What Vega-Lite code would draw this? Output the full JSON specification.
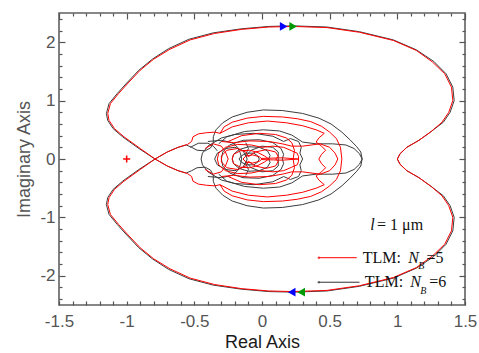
{
  "$schema": "https://vega.github.io/schema/vega-lite/v6.json",
  "width": 406,
  "height": 292,
  "autosize": "none",
  "padding": {"left": 59, "top": 13, "right": 14, "bottom": 48},
  "config": {"font": "Liberation Sans", "view": {"stroke": "#606060", "strokeWidth": 1.6}},
  "datasets": {
    "n5": [
      {"g":"a","x":-0.79,"y":0},{"g":"a","x":-0.90,"y":0.18},{"g":"a","x":-1.02,"y":0.38},{"g":"a","x":-1.09,"y":0.52},{"g":"a","x":-1.13,"y":0.66},{"g":"a","x":-1.14,"y":0.78},{"g":"a","x":-1.12,"y":0.95},{"g":"a","x":-1.06,"y":1.12},{"g":"a","x":-0.99,"y":1.30},{"g":"a","x":-0.90,"y":1.52},{"g":"a","x":-0.80,"y":1.71},{"g":"a","x":-0.68,"y":1.88},{"g":"a","x":-0.53,"y":2.04},{"g":"a","x":-0.35,"y":2.15},{"g":"a","x":-0.15,"y":2.22},{"g":"a","x":0.05,"y":2.26},{"g":"a","x":0.23,"y":2.27},{"g":"a","x":0.48,"y":2.25},{"g":"a","x":0.72,"y":2.17},{"g":"a","x":0.97,"y":2.03},{"g":"a","x":1.14,"y":1.86},{"g":"a","x":1.26,"y":1.66},{"g":"a","x":1.35,"y":1.46},{"g":"a","x":1.40,"y":1.23},{"g":"a","x":1.41,"y":1.00},{"g":"a","x":1.38,"y":0.80},{"g":"a","x":1.33,"y":0.63},{"g":"a","x":1.25,"y":0.47},{"g":"a","x":1.16,"y":0.32},{"g":"a","x":1.07,"y":0.20},{"g":"a","x":1.02,"y":0.09},{"g":"a","x":1.00,"y":0},
      {"g":"a","x":1.02,"y":-0.09},{"g":"a","x":1.07,"y":-0.20},{"g":"a","x":1.16,"y":-0.32},{"g":"a","x":1.25,"y":-0.47},{"g":"a","x":1.33,"y":-0.63},{"g":"a","x":1.38,"y":-0.80},{"g":"a","x":1.41,"y":-1.00},{"g":"a","x":1.40,"y":-1.23},{"g":"a","x":1.35,"y":-1.46},{"g":"a","x":1.26,"y":-1.66},{"g":"a","x":1.14,"y":-1.86},{"g":"a","x":0.97,"y":-2.03},{"g":"a","x":0.72,"y":-2.17},{"g":"a","x":0.48,"y":-2.25},{"g":"a","x":0.23,"y":-2.27},{"g":"a","x":0.05,"y":-2.26},{"g":"a","x":-0.15,"y":-2.22},{"g":"a","x":-0.35,"y":-2.15},{"g":"a","x":-0.53,"y":-2.04},{"g":"a","x":-0.68,"y":-1.88},{"g":"a","x":-0.80,"y":-1.71},{"g":"a","x":-0.90,"y":-1.52},{"g":"a","x":-0.99,"y":-1.30},{"g":"a","x":-1.06,"y":-1.12},{"g":"a","x":-1.12,"y":-0.95},{"g":"a","x":-1.14,"y":-0.78},{"g":"a","x":-1.13,"y":-0.66},{"g":"a","x":-1.09,"y":-0.52},{"g":"a","x":-1.02,"y":-0.38},{"g":"a","x":-0.90,"y":-0.18},{"g":"a","x":-0.79,"y":0},
      {"g":"b","x":-0.79,"y":0},{"g":"b","x":-0.70,"y":0.12},{"g":"b","x":-0.62,"y":0.20},{"g":"b","x":-0.55,"y":0.25},{"g":"b","x":-0.52,"y":0.30},{"g":"b","x":-0.51,"y":0.38},{"g":"b","x":-0.47,"y":0.43},{"g":"b","x":-0.41,"y":0.45},{"g":"b","x":-0.35,"y":0.46},{"g":"b","x":-0.31,"y":0.44},{"g":"b","x":-0.28,"y":0.55},{"g":"b","x":-0.22,"y":0.63},{"g":"b","x":-0.11,"y":0.70},{"g":"b","x":0.01,"y":0.73},{"g":"b","x":0.15,"y":0.72},{"g":"b","x":0.26,"y":0.69},{"g":"b","x":0.36,"y":0.64},{"g":"b","x":0.44,"y":0.56},{"g":"b","x":0.50,"y":0.46},{"g":"b","x":0.55,"y":0.35},{"g":"b","x":0.58,"y":0.20},{"g":"b","x":0.59,"y":0},
      {"g":"b","x":0.58,"y":-0.20},{"g":"b","x":0.55,"y":-0.35},{"g":"b","x":0.50,"y":-0.46},{"g":"b","x":0.44,"y":-0.56},{"g":"b","x":0.36,"y":-0.64},{"g":"b","x":0.26,"y":-0.69},{"g":"b","x":0.15,"y":-0.72},{"g":"b","x":0.01,"y":-0.73},{"g":"b","x":-0.11,"y":-0.70},{"g":"b","x":-0.22,"y":-0.63},{"g":"b","x":-0.28,"y":-0.55},{"g":"b","x":-0.31,"y":-0.44},{"g":"b","x":-0.35,"y":-0.46},{"g":"b","x":-0.41,"y":-0.45},{"g":"b","x":-0.47,"y":-0.43},{"g":"b","x":-0.51,"y":-0.38},{"g":"b","x":-0.52,"y":-0.30},{"g":"b","x":-0.55,"y":-0.25},{"g":"b","x":-0.62,"y":-0.20},{"g":"b","x":-0.70,"y":-0.12},{"g":"b","x":-0.79,"y":0},
      {"g":"c","x":-0.31,"y":0.44},{"g":"c","x":-0.22,"y":0.55},{"g":"c","x":-0.10,"y":0.62},{"g":"c","x":0.04,"y":0.65},{"g":"c","x":0.18,"y":0.62},{"g":"c","x":0.30,"y":0.57},{"g":"c","x":0.40,"y":0.50},{"g":"c","x":0.46,"y":0.44},{"g":"c","x":0.42,"y":0.36},{"g":"c","x":0.40,"y":0.29},{"g":"c","x":0.44,"y":0.22},{"g":"c","x":0.47,"y":0.15},{"g":"c","x":0.44,"y":0.08},{"g":"c","x":0.42,"y":0},
      {"g":"c","x":0.44,"y":-0.08},{"g":"c","x":0.47,"y":-0.15},{"g":"c","x":0.44,"y":-0.22},{"g":"c","x":0.40,"y":-0.29},{"g":"c","x":0.42,"y":-0.36},{"g":"c","x":0.46,"y":-0.44},{"g":"c","x":0.40,"y":-0.50},{"g":"c","x":0.30,"y":-0.57},{"g":"c","x":0.18,"y":-0.62},{"g":"c","x":0.04,"y":-0.65},{"g":"c","x":-0.10,"y":-0.62},{"g":"c","x":-0.22,"y":-0.55},{"g":"c","x":-0.31,"y":-0.44},
      {"g":"d","x":-0.30,"y":0.30},{"g":"d","x":-0.21,"y":0.28},{"g":"d","x":-0.09,"y":0.31},{"g":"d","x":0.05,"y":0.30},{"g":"d","x":0.15,"y":0.26},{"g":"d","x":0.22,"y":0.22},{"g":"d","x":0.30,"y":0.22},{"g":"d","x":0.43,"y":0.26},{"g":"d","x":0.50,"y":0.20},{"g":"d","x":0.54,"y":0.10},{"g":"d","x":0.56,"y":0},
      {"g":"d","x":0.54,"y":-0.10},{"g":"d","x":0.50,"y":-0.20},{"g":"d","x":0.43,"y":-0.26},{"g":"d","x":0.30,"y":-0.22},{"g":"d","x":0.22,"y":-0.22},{"g":"d","x":0.15,"y":-0.26},{"g":"d","x":0.05,"y":-0.30},{"g":"d","x":-0.09,"y":-0.31},{"g":"d","x":-0.21,"y":-0.28},{"g":"d","x":-0.30,"y":-0.30},
      {"g":"e","x":-0.33,"y":0},{"g":"e","x":-0.32,"y":0.10},{"g":"e","x":-0.27,"y":0.20},{"g":"e","x":-0.18,"y":0.25},{"g":"e","x":-0.08,"y":0.24},{"g":"e","x":0.00,"y":0.20},{"g":"e","x":0.08,"y":0.22},{"g":"e","x":0.16,"y":0.20},{"g":"e","x":0.22,"y":0.14},{"g":"e","x":0.26,"y":0.10},{"g":"e","x":0.27,"y":0.04},{"g":"e","x":0.27,"y":0},
      {"g":"e","x":0.27,"y":-0.04},{"g":"e","x":0.26,"y":-0.10},{"g":"e","x":0.22,"y":-0.14},{"g":"e","x":0.16,"y":-0.20},{"g":"e","x":0.08,"y":-0.22},{"g":"e","x":0.00,"y":-0.20},{"g":"e","x":-0.08,"y":-0.24},{"g":"e","x":-0.18,"y":-0.25},{"g":"e","x":-0.27,"y":-0.20},{"g":"e","x":-0.32,"y":-0.10},{"g":"e","x":-0.33,"y":0},
      {"g":"f","x":-0.22,"y":0},{"g":"f","x":-0.21,"y":0.08},{"g":"f","x":-0.16,"y":0.14},{"g":"f","x":-0.09,"y":0.15},{"g":"f","x":-0.03,"y":0.11},{"g":"f","x":0.02,"y":0.05},{"g":"f","x":0.05,"y":0},{"g":"f","x":0.02,"y":-0.05},{"g":"f","x":-0.03,"y":-0.11},{"g":"f","x":-0.09,"y":-0.15},{"g":"f","x":-0.16,"y":-0.14},{"g":"f","x":-0.21,"y":-0.08},{"g":"f","x":-0.22,"y":0},
      {"g":"g","x":-0.14,"y":0},{"g":"g","x":-0.12,"y":0.05},{"g":"g","x":-0.07,"y":0.07},{"g":"g","x":-0.02,"y":0.04},{"g":"g","x":0.00,"y":0},{"g":"g","x":-0.02,"y":-0.04},{"g":"g","x":-0.07,"y":-0.07},{"g":"g","x":-0.12,"y":-0.05},{"g":"g","x":-0.14,"y":0},
      {"g":"h","x":-0.25,"y":0.30},{"g":"h","x":-0.15,"y":0.40},{"g":"h","x":-0.02,"y":0.44},{"g":"h","x":0.10,"y":0.42},{"g":"h","x":0.18,"y":0.36},{"g":"h","x":0.22,"y":0.28},{"g":"h","x":0.24,"y":0.15},{"g":"h","x":0.23,"y":0},{"g":"h","x":0.24,"y":-0.15},{"g":"h","x":0.22,"y":-0.28},{"g":"h","x":0.18,"y":-0.36},{"g":"h","x":0.10,"y":-0.42},{"g":"h","x":-0.02,"y":-0.44},{"g":"h","x":-0.15,"y":-0.40},{"g":"h","x":-0.25,"y":-0.30},
      {"g":"i","x":-0.30,"y":0.05},{"g":"i","x":-0.26,"y":0.15},{"g":"i","x":-0.18,"y":0.18},{"g":"i","x":-0.12,"y":0.12},{"g":"i","x":-0.10,"y":0.04},{"g":"i","x":-0.05,"y":0.12},{"g":"i","x":0.03,"y":0.16},{"g":"i","x":0.10,"y":0.12},{"g":"i","x":0.12,"y":0.04},{"g":"i","x":0.10,"y":0},{"g":"i","x":0.12,"y":-0.04},{"g":"i","x":0.10,"y":-0.12},{"g":"i","x":0.03,"y":-0.16},{"g":"i","x":-0.05,"y":-0.12},{"g":"i","x":-0.10,"y":-0.04},{"g":"i","x":-0.12,"y":-0.12},{"g":"i","x":-0.18,"y":-0.18},{"g":"i","x":-0.26,"y":-0.15},{"g":"i","x":-0.30,"y":-0.05},{"g":"i","x":-0.30,"y":0.05},
      {"g":"l","x":0.00,"y":0.01},{"g":"l","x":0.15,"y":0.02},{"g":"l","x":0.27,"y":0},{"g":"l","x":0.15,"y":-0.02},{"g":"l","x":0.00,"y":-0.01},
      {"g":"m","x":-0.42,"y":0.18},{"g":"m","x":-0.36,"y":0.26},{"g":"m","x":-0.30,"y":0.22},{"g":"m","x":-0.27,"y":0.12},{"g":"m","x":-0.25,"y":0},{"g":"m","x":-0.27,"y":-0.12},{"g":"m","x":-0.30,"y":-0.22},{"g":"m","x":-0.36,"y":-0.26},{"g":"m","x":-0.42,"y":-0.18}
    ],
    "n6": [
      {"g":"a","x":-0.79,"y":0},{"g":"a","x":-0.91,"y":0.18},{"g":"a","x":-1.03,"y":0.38},{"g":"a","x":-1.10,"y":0.52},{"g":"a","x":-1.14,"y":0.66},{"g":"a","x":-1.15,"y":0.78},{"g":"a","x":-1.13,"y":0.95},{"g":"a","x":-1.07,"y":1.12},{"g":"a","x":-1.00,"y":1.30},{"g":"a","x":-0.91,"y":1.52},{"g":"a","x":-0.81,"y":1.71},{"g":"a","x":-0.69,"y":1.89},{"g":"a","x":-0.54,"y":2.05},{"g":"a","x":-0.36,"y":2.16},{"g":"a","x":-0.15,"y":2.23},{"g":"a","x":0.05,"y":2.27},{"g":"a","x":0.23,"y":2.28},{"g":"a","x":0.48,"y":2.26},{"g":"a","x":0.72,"y":2.18},{"g":"a","x":0.97,"y":2.04},{"g":"a","x":1.14,"y":1.87},{"g":"a","x":1.27,"y":1.67},{"g":"a","x":1.36,"y":1.46},{"g":"a","x":1.41,"y":1.23},{"g":"a","x":1.42,"y":1.00},{"g":"a","x":1.39,"y":0.80},{"g":"a","x":1.34,"y":0.63},{"g":"a","x":1.25,"y":0.47},{"g":"a","x":1.16,"y":0.32},{"g":"a","x":1.07,"y":0.20},{"g":"a","x":1.02,"y":0.09},{"g":"a","x":1.00,"y":0},
      {"g":"a","x":1.02,"y":-0.09},{"g":"a","x":1.07,"y":-0.20},{"g":"a","x":1.16,"y":-0.32},{"g":"a","x":1.25,"y":-0.47},{"g":"a","x":1.34,"y":-0.63},{"g":"a","x":1.39,"y":-0.80},{"g":"a","x":1.42,"y":-1.00},{"g":"a","x":1.41,"y":-1.23},{"g":"a","x":1.36,"y":-1.46},{"g":"a","x":1.27,"y":-1.67},{"g":"a","x":1.14,"y":-1.87},{"g":"a","x":0.97,"y":-2.04},{"g":"a","x":0.72,"y":-2.18},{"g":"a","x":0.48,"y":-2.26},{"g":"a","x":0.23,"y":-2.28},{"g":"a","x":0.05,"y":-2.27},{"g":"a","x":-0.15,"y":-2.23},{"g":"a","x":-0.36,"y":-2.16},{"g":"a","x":-0.54,"y":-2.05},{"g":"a","x":-0.69,"y":-1.89},{"g":"a","x":-0.81,"y":-1.71},{"g":"a","x":-0.91,"y":-1.52},{"g":"a","x":-1.00,"y":-1.30},{"g":"a","x":-1.07,"y":-1.12},{"g":"a","x":-1.13,"y":-0.95},{"g":"a","x":-1.15,"y":-0.78},{"g":"a","x":-1.14,"y":-0.66},{"g":"a","x":-1.10,"y":-0.52},{"g":"a","x":-1.03,"y":-0.38},{"g":"a","x":-0.91,"y":-0.18},{"g":"a","x":-0.79,"y":0},
      {"g":"b","x":-0.79,"y":0},{"g":"b","x":-0.70,"y":0.12},{"g":"b","x":-0.62,"y":0.20},{"g":"b","x":-0.56,"y":0.24},{"g":"b","x":-0.52,"y":0.20},{"g":"b","x":-0.48,"y":0.15},{"g":"b","x":-0.42,"y":0.14},{"g":"b","x":-0.38,"y":0.19},{"g":"b","x":-0.36,"y":0.28},{"g":"b","x":-0.36,"y":0.38},{"g":"b","x":-0.34,"y":0.50},{"g":"b","x":-0.29,"y":0.62},{"g":"b","x":-0.22,"y":0.72},{"g":"b","x":-0.11,"y":0.80},{"g":"b","x":0.01,"y":0.84},{"g":"b","x":0.15,"y":0.83},{"g":"b","x":0.30,"y":0.78},{"g":"b","x":0.42,"y":0.70},{"g":"b","x":0.51,"y":0.60},{"g":"b","x":0.59,"y":0.46},{"g":"b","x":0.65,"y":0.33},{"g":"b","x":0.70,"y":0.21},{"g":"b","x":0.73,"y":0.12},{"g":"b","x":0.74,"y":0},
      {"g":"b","x":0.73,"y":-0.12},{"g":"b","x":0.70,"y":-0.21},{"g":"b","x":0.65,"y":-0.33},{"g":"b","x":0.59,"y":-0.46},{"g":"b","x":0.51,"y":-0.60},{"g":"b","x":0.42,"y":-0.70},{"g":"b","x":0.30,"y":-0.78},{"g":"b","x":0.15,"y":-0.83},{"g":"b","x":0.01,"y":-0.84},{"g":"b","x":-0.11,"y":-0.80},{"g":"b","x":-0.22,"y":-0.72},{"g":"b","x":-0.29,"y":-0.62},{"g":"b","x":-0.34,"y":-0.50},{"g":"b","x":-0.36,"y":-0.38},{"g":"b","x":-0.36,"y":-0.28},{"g":"b","x":-0.38,"y":-0.19},{"g":"b","x":-0.42,"y":-0.14},{"g":"b","x":-0.48,"y":-0.15},{"g":"b","x":-0.52,"y":-0.20},{"g":"b","x":-0.56,"y":-0.24},{"g":"b","x":-0.62,"y":-0.20},{"g":"b","x":-0.70,"y":-0.12},{"g":"b","x":-0.79,"y":0},
      {"g":"c","x":-0.32,"y":0.26},{"g":"c","x":-0.26,"y":0.38},{"g":"c","x":-0.13,"y":0.47},{"g":"c","x":0.01,"y":0.50},{"g":"c","x":0.13,"y":0.48},{"g":"c","x":0.22,"y":0.41},{"g":"c","x":0.30,"y":0.29},{"g":"c","x":0.40,"y":0.26},{"g":"c","x":0.52,"y":0.26},{"g":"c","x":0.62,"y":0.24},{"g":"c","x":0.68,"y":0.18},{"g":"c","x":0.72,"y":0.09},{"g":"c","x":0.74,"y":0},{"g":"c","x":0.72,"y":-0.09},{"g":"c","x":0.68,"y":-0.18},{"g":"c","x":0.62,"y":-0.24},{"g":"c","x":0.52,"y":-0.26},{"g":"c","x":0.40,"y":-0.26},{"g":"c","x":0.30,"y":-0.29},{"g":"c","x":0.22,"y":-0.41},{"g":"c","x":0.13,"y":-0.48},{"g":"c","x":0.01,"y":-0.50},{"g":"c","x":-0.13,"y":-0.47},{"g":"c","x":-0.26,"y":-0.38},{"g":"c","x":-0.32,"y":-0.26},
      {"g":"d","x":-0.45,"y":0},{"g":"d","x":-0.44,"y":0.10},{"g":"d","x":-0.40,"y":0.22},{"g":"d","x":-0.30,"y":0.36},{"g":"d","x":-0.20,"y":0.42},{"g":"d","x":-0.06,"y":0.44},{"g":"d","x":0.08,"y":0.39},{"g":"d","x":0.16,"y":0.30},{"g":"d","x":0.21,"y":0.35},{"g":"d","x":0.27,"y":0.30},{"g":"d","x":0.29,"y":0.20},{"g":"d","x":0.28,"y":0.10},{"g":"d","x":0.30,"y":0},{"g":"d","x":0.28,"y":-0.10},{"g":"d","x":0.29,"y":-0.20},{"g":"d","x":0.27,"y":-0.30},{"g":"d","x":0.21,"y":-0.35},{"g":"d","x":0.16,"y":-0.30},{"g":"d","x":0.08,"y":-0.39},{"g":"d","x":-0.06,"y":-0.44},{"g":"d","x":-0.20,"y":-0.42},{"g":"d","x":-0.30,"y":-0.36},{"g":"d","x":-0.40,"y":-0.22},{"g":"d","x":-0.44,"y":-0.10},{"g":"d","x":-0.45,"y":0},
      {"g":"e","x":-0.30,"y":0},{"g":"e","x":-0.29,"y":0.12},{"g":"e","x":-0.24,"y":0.24},{"g":"e","x":-0.14,"y":0.32},{"g":"e","x":-0.02,"y":0.33},{"g":"e","x":0.08,"y":0.28},{"g":"e","x":0.14,"y":0.18},{"g":"e","x":0.16,"y":0.08},{"g":"e","x":0.15,"y":0},{"g":"e","x":0.16,"y":-0.08},{"g":"e","x":0.14,"y":-0.18},{"g":"e","x":0.08,"y":-0.28},{"g":"e","x":-0.02,"y":-0.33},{"g":"e","x":-0.14,"y":-0.32},{"g":"e","x":-0.24,"y":-0.24},{"g":"e","x":-0.29,"y":-0.12},{"g":"e","x":-0.30,"y":0},
      {"g":"f","x":-0.22,"y":0},{"g":"f","x":-0.21,"y":0.08},{"g":"f","x":-0.17,"y":0.16},{"g":"f","x":-0.10,"y":0.21},{"g":"f","x":-0.02,"y":0.20},{"g":"f","x":0.04,"y":0.14},{"g":"f","x":0.06,"y":0.06},{"g":"f","x":0.05,"y":0},{"g":"f","x":0.06,"y":-0.06},{"g":"f","x":0.04,"y":-0.14},{"g":"f","x":-0.02,"y":-0.20},{"g":"f","x":-0.10,"y":-0.21},{"g":"f","x":-0.17,"y":-0.16},{"g":"f","x":-0.21,"y":-0.08},{"g":"f","x":-0.22,"y":0},
      {"g":"g","x":-0.17,"y":0},{"g":"g","x":-0.15,"y":0.06},{"g":"g","x":-0.11,"y":0.10},{"g":"g","x":-0.06,"y":0.10},{"g":"g","x":-0.03,"y":0.05},{"g":"g","x":-0.02,"y":0},{"g":"g","x":-0.03,"y":-0.05},{"g":"g","x":-0.06,"y":-0.10},{"g":"g","x":-0.11,"y":-0.10},{"g":"g","x":-0.15,"y":-0.06},{"g":"g","x":-0.17,"y":0},
      {"g":"h","x":-0.35,"y":0},{"g":"h","x":-0.33,"y":0.10},{"g":"h","x":-0.27,"y":0.18},{"g":"h","x":-0.20,"y":0.20},{"g":"h","x":-0.14,"y":0.14},{"g":"h","x":-0.12,"y":0.05},{"g":"h","x":-0.08,"y":0.15},{"g":"h","x":0.00,"y":0.22},{"g":"h","x":0.08,"y":0.20},{"g":"h","x":0.12,"y":0.12},{"g":"h","x":0.12,"y":0},{"g":"h","x":0.12,"y":-0.12},{"g":"h","x":0.08,"y":-0.20},{"g":"h","x":0.00,"y":-0.22},{"g":"h","x":-0.08,"y":-0.15},{"g":"h","x":-0.12,"y":-0.05},{"g":"h","x":-0.14,"y":-0.14},{"g":"h","x":-0.20,"y":-0.20},{"g":"h","x":-0.27,"y":-0.18},{"g":"h","x":-0.33,"y":-0.10},{"g":"h","x":-0.35,"y":0},
      {"g":"i","x":-0.40,"y":0.30},{"g":"i","x":-0.30,"y":0.32},{"g":"i","x":-0.22,"y":0.28},{"g":"i","x":-0.18,"y":0.20},{"g":"i","x":-0.16,"y":0.10},{"g":"i","x":-0.15,"y":0},{"g":"i","x":-0.16,"y":-0.10},{"g":"i","x":-0.18,"y":-0.20},{"g":"i","x":-0.22,"y":-0.28},{"g":"i","x":-0.30,"y":-0.32},{"g":"i","x":-0.40,"y":-0.30},
      {"g":"j","x":-0.12,"y":0.28},{"g":"j","x":-0.10,"y":0.18},{"g":"j","x":-0.12,"y":0.08},{"g":"j","x":-0.11,"y":0},{"g":"j","x":-0.12,"y":-0.08},{"g":"j","x":-0.10,"y":-0.18},{"g":"j","x":-0.12,"y":-0.28},
      {"g":"k","x":-0.53,"y":0.20},{"g":"k","x":-0.47,"y":0.27},{"g":"k","x":-0.40,"y":0.27},{"g":"k","x":-0.36,"y":0.22},{"g":"k","x":-0.33,"y":0.14}
    ],
    "legl": [
      {"s":"N5","x":0.42,"y":-1.69},{"s":"N5","x":0.70,"y":-1.69},
      {"s":"N6","x":0.42,"y":-2.11},{"s":"N6","x":0.72,"y":-2.11}
    ],
    "txt": [
      {"t":"TLM:","x":0.745,"y":-1.69},{"t":"=5","x":1.215,"y":-1.69},
      {"t":"TLM:","x":0.76,"y":-2.11},{"t":"=6","x":1.235,"y":-2.11},
      {"t":"= 1 μm","x":0.85,"y":-1.13}
    ],
    "txti": [
      {"t":"N","x":1.08,"y":-1.69},{"t":"N","x":1.095,"y":-2.11},{"t":"l","x":0.80,"y":-1.13}
    ],
    "txts": [
      {"t":"B","x":1.155,"y":-1.84},{"t":"B","x":1.17,"y":-2.26}
    ],
    "arr": [
      {"s":"N5","d":"fwd","x":0.16,"y":2.27},{"s":"N6","d":"fwd","x":0.23,"y":2.27},
      {"s":"N5","d":"back","x":0.22,"y":-2.28},{"s":"N6","d":"back","x":0.29,"y":-2.28}
    ],
    "crit": [{"x":-1,"y":0}]
  },
  "resolve": {"axis": {"x": "independent", "y": "independent"}, "scale": {"color": "independent", "shape": "independent"}},
  "layer": [
    {
      "mark": {"type": "rule", "color": "#c4c4c4", "strokeWidth": 1.5},
      "encoding": {
        "x": {"datum": 0, "type": "quantitative", "scale": {"domain": [-1.5, 1.5], "nice": false, "zero": false},
          "axis": {"orient": "bottom", "values": [-1.5, -1, -0.5, 0, 0.5, 1, 1.5], "ticks": false, "domain": false, "grid": false,
            "labelExpr": "datum.value < 0 ? '-' + format(-datum.value, '') : format(datum.value, '')",
            "labelFontSize": 17, "labelColor": "#555555", "labelPadding": 8, "labelFlush": false, "labelOverlap": false,
            "title": "Real Axis", "titleFontSize": 18, "titleFontWeight": "normal", "titleColor": "#1a1a1a", "titlePadding": 4}}
      }
    },
    {
      "mark": {"type": "rule", "color": "#c4c4c4", "strokeWidth": 1.5},
      "encoding": {
        "y": {"datum": 0, "type": "quantitative", "scale": {"domain": [-2.5, 2.5], "nice": false, "zero": false},
          "axis": {"orient": "left", "offset": -6, "values": [-2, -1, 0, 1, 2], "tickSize": 6, "tickColor": "#555555", "tickWidth": 1.2, "domain": false, "grid": false,
            "labelExpr": "datum.value < 0 ? '-' + format(-datum.value, '') : format(datum.value, '')",
            "labelFontSize": 17, "labelColor": "#555555", "labelPadding": 4, "labelFlush": false, "labelOverlap": false,
            "title": "Imaginary Axis", "titleFontSize": 18, "titleFontWeight": "normal", "titleColor": "#555555", "titlePadding": 6}}
      }
    },
    {
      "data": {"name": "n6"},
      "mark": {"type": "line", "color": "#3c3c3c", "strokeWidth": 1},
      "encoding": {
        "x": {"field": "x", "type": "quantitative", "scale": {"domain": [-1.5, 1.5], "nice": false, "zero": false},
          "axis": {"orient": "bottom", "offset": -4, "values": [-1.5,-1.4,-1.3,-1.2,-1.1,-1,-0.9,-0.8,-0.7,-0.6,-0.5,-0.4,-0.3,-0.2,-0.1,0,0.1,0.2,0.3,0.4,0.5,0.6,0.7,0.8,0.9,1,1.1,1.2,1.3,1.4,1.5], "tickSize": 4, "tickColor": "#555555", "tickWidth": 1.2, "labels": false, "domain": false, "grid": false, "title": null}},
        "y": {"field": "y", "type": "quantitative", "scale": {"domain": [-2.5, 2.5], "nice": false, "zero": false},
          "axis": {"orient": "left", "offset": -3, "values": [-2.4,-2.2,-1.8,-1.6,-1.4,-1.2,-0.8,-0.6,-0.4,-0.2,0.2,0.4,0.6,0.8,1.2,1.4,1.6,1.8,2.2,2.4], "tickSize": 3, "tickColor": "#555555", "tickWidth": 1.2, "labels": false, "domain": false, "grid": false, "title": null}},
        "detail": {"field": "g", "type": "nominal"},
        "order": {"value": null}
      }
    },
    {
      "data": {"name": "n5"},
      "mark": {"type": "line", "color": "#ff0000", "strokeWidth": 1},
      "encoding": {
        "x": {"field": "x", "type": "quantitative", "scale": {"domain": [-1.5, 1.5], "nice": false, "zero": false},
          "axis": {"orient": "top", "offset": -3, "values": [-1.4,-1.3,-1.2,-1.1,-0.9,-0.8,-0.7,-0.6,-0.4,-0.3,-0.2,-0.1,0.1,0.2,0.3,0.4,0.6,0.7,0.8,0.9,1.1,1.2,1.3,1.4], "tickSize": 3, "tickColor": "#555555", "tickWidth": 1.2, "labels": false, "domain": false, "grid": false, "title": null}},
        "y": {"field": "y", "type": "quantitative", "scale": {"domain": [-2.5, 2.5], "nice": false, "zero": false},
          "axis": {"orient": "right", "offset": -3, "values": [-2.4,-2.2,-1.8,-1.6,-1.4,-1.2,-0.8,-0.6,-0.4,-0.2,0.2,0.4,0.6,0.8,1.2,1.4,1.6,1.8,2.2,2.4], "tickSize": 3, "tickColor": "#555555", "tickWidth": 1.2, "labels": false, "domain": false, "grid": false, "title": null}},
        "detail": {"field": "g", "type": "nominal"},
        "order": {"value": null}
      }
    },
    {
      "data": {"name": "legl"},
      "mark": {"type": "line", "strokeWidth": 1},
      "encoding": {
        "x": {"field": "x", "type": "quantitative", "scale": {"domain": [-1.5, 1.5], "nice": false, "zero": false},
          "axis": {"orient": "top", "offset": -6, "values": [-1.5, -1, -0.5, 0, 0.5, 1, 1.5], "tickSize": 6, "tickColor": "#555555", "tickWidth": 1.2, "labels": false, "domain": false, "grid": false, "title": null}},
        "y": {"field": "y", "type": "quantitative", "scale": {"domain": [-2.5, 2.5], "nice": false, "zero": false},
          "axis": {"orient": "right", "offset": -6, "values": [-2, -1, 0, 1, 2], "tickSize": 6, "tickColor": "#555555", "tickWidth": 1.2, "labels": false, "domain": false, "grid": false, "title": null}},
        "color": {"field": "s", "type": "nominal", "scale": {"domain": ["N5", "N6"], "range": ["#ff0000", "#333333"]}, "legend": null}
      }
    },
    {
      "data": {"name": "legl"},
      "transform": [{"filter": "datum.x < 0.5"}],
      "mark": {"type": "point", "filled": true, "size": 6},
      "encoding": {
        "x": {"field": "x", "type": "quantitative", "axis": null},
        "y": {"field": "y", "type": "quantitative", "axis": null},
        "color": {"field": "s", "type": "nominal", "scale": {"domain": ["N5", "N6"], "range": ["#ff0000", "#333333"]}, "legend": null}
      }
    },
    {
      "data": {"name": "txt"},
      "mark": {"type": "text", "font": "Liberation Serif", "fontSize": 16, "align": "left", "baseline": "middle", "color": "#111111"},
      "encoding": {
        "x": {"field": "x", "type": "quantitative", "axis": null},
        "y": {"field": "y", "type": "quantitative", "axis": null},
        "text": {"field": "t"}
      }
    },
    {
      "data": {"name": "txti"},
      "mark": {"type": "text", "font": "Liberation Serif", "fontSize": 16, "fontStyle": "italic", "align": "left", "baseline": "middle", "color": "#111111"},
      "encoding": {
        "x": {"field": "x", "type": "quantitative", "axis": null},
        "y": {"field": "y", "type": "quantitative", "axis": null},
        "text": {"field": "t"}
      }
    },
    {
      "data": {"name": "txts"},
      "mark": {"type": "text", "font": "Liberation Serif", "fontSize": 10, "fontStyle": "italic", "align": "left", "baseline": "middle", "color": "#111111"},
      "encoding": {
        "x": {"field": "x", "type": "quantitative", "axis": null},
        "y": {"field": "y", "type": "quantitative", "axis": null},
        "text": {"field": "t"}
      }
    },
    {
      "data": {"name": "arr"},
      "mark": {"type": "point", "filled": true, "size": 75, "opacity": 1},
      "encoding": {
        "x": {"field": "x", "type": "quantitative", "axis": null},
        "y": {"field": "y", "type": "quantitative", "axis": null},
        "color": {"field": "s", "type": "nominal", "scale": {"domain": ["N5", "N6"], "range": ["#0000ff", "#009900"]}, "legend": null},
        "shape": {"field": "d", "type": "nominal", "scale": {"domain": ["fwd", "back"], "range": ["triangle-right", "triangle-left"]}, "legend": null}
      }
    },
    {
      "data": {"name": "crit"},
      "mark": {"type": "point", "shape": "M-1,0L1,0M0,-1L0,1", "size": 50, "filled": false, "stroke": "#ff0000", "strokeWidth": 1.5, "opacity": 1},
      "encoding": {
        "x": {"field": "x", "type": "quantitative", "axis": null},
        "y": {"field": "y", "type": "quantitative", "axis": null}
      }
    }
  ]
}
